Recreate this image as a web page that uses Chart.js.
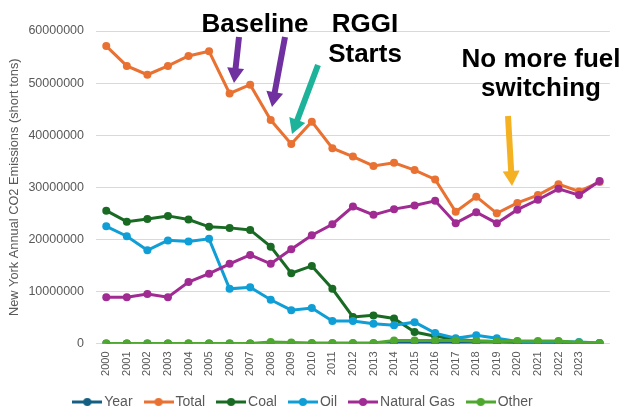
<!DOCTYPE html>
<html>
<head>
<meta charset="utf-8">
<script src="https://cdn.jsdelivr.net/npm/chart.js@4.4.1/dist/chart.umd.min.js"></script>
<style>
  html, body { margin: 0; padding: 0; background: #ffffff; }
  #wrap { position: relative; width: 621px; height: 408px; }
</style>
</head>
<body>
<div id="wrap"><canvas id="chart" width="621" height="408"></canvas></div>
<script>
// Categories and tick labels
const years = [2000, 2001, 2002, 2003, 2004, 2005, 2006, 2007, 2008, 2009, 2010, 2011, 2012,
               2013, 2014, 2015, 2016, 2017, 2018, 2019, 2020, 2021, 2022, 2023, 2024];
const tickLabels = ['2000', '2001', '2002', '2003', '2004', '2005', '2006', '2007', '2008', '2009',
                    '2010', '2011', '2012', '2013', '2014', '2015', '2016', '2017', '2018', '2019',
                    '2020', '2021', '2022', '2023', ''];
const yTicks = [0, 10000000, 20000000, 30000000, 40000000, 50000000, 60000000];

// Annual CO2 emissions, short tons
const total = [57100000, 53300000, 51600000, 53300000, 55200000, 56100000, 48000000, 49700000,
               42900000, 38300000, 42600000, 37500000, 35900000, 34100000, 34700000, 33300000,
               31500000, 25300000, 28200000, 25000000, 27000000, 28500000, 30600000, 29200000, 31000000];
const coal = [25500000, 23400000, 23900000, 24500000, 23800000, 22400000, 22200000, 21800000,
              18600000, 13500000, 14900000, 10500000, 5100000, 5400000, 4800000, 2200000,
              1400000, 800000, 500000, 400000, 200000, 200000, 200000, 100000, 0];
const oil = [22500000, 20600000, 17900000, 19800000, 19600000, 20100000, 10500000, 10800000,
             8400000, 6400000, 6800000, 4300000, 4300000, 3800000, 3500000, 4100000,
             2000000, 1000000, 1600000, 1000000, 400000, 300000, 400000, 300000, 100000];
const naturalGas = [8900000, 8900000, 9500000, 8900000, 11800000, 13400000, 15300000, 17000000,
                    15300000, 18100000, 20800000, 22900000, 26300000, 24700000, 25800000, 26500000,
                    27400000, 23100000, 25200000, 23100000, 25700000, 27600000, 29700000, 28500000, 31200000];
const other = [0, 0, 0, 0, 0, 0, 0, 0, 300000, 200000, 100000, 100000, 100000, 100000, 600000, 600000,
               600000, 600000, 500000, 400000, 500000, 500000, 500000, 200000, 100000];

const seriesNames = ['Year', 'Total', 'Coal', 'Oil', 'Natural Gas', 'Other'];
const seriesColors = ['#156082', '#E97132', '#196B24', '#0F9ED5', '#A02B93', '#4EA72E'];
const seriesValues = [years, total, coal, oil, naturalGas, other];

const GREY = '#595959';
const FONT = "'Liberation Sans', Arial, sans-serif";

// Legend swatch: a short line with a marker dot in the middle
function legendSwatch(color) {
  const c = document.createElement('canvas');
  c.width = 30; c.height = 10;
  const g = c.getContext('2d');
  g.strokeStyle = color; g.lineWidth = 3;
  g.beginPath(); g.moveTo(0, 5); g.lineTo(30, 5); g.stroke();
  g.fillStyle = color;
  g.beginPath(); g.arc(15, 5, 4, 0, Math.PI * 2); g.fill();
  return c;
}

const datasets = seriesNames.map((name, i) => ({
  label: name,
  data: seriesValues[i],
  borderColor: seriesColors[i],
  backgroundColor: seriesColors[i],
  borderWidth: 3,
  pointRadius: 4,
  pointBorderWidth: 0,
  pointBackgroundColor: seriesColors[i],
  tension: 0,
  order: -i
}));

// Callout texts and arrows drawn over the plot
const callouts = [
  { lines: ['Baseline'], x: 255, y: [32] },
  { lines: ['RGGI', 'Starts'], x: 365, y: [32, 62] },
  { lines: ['No more fuel', 'switching'], x: 541, y: [67, 96] }
];
const arrows = [
  { from: [239, 37], to: [234, 83], color: '#7030A0' },
  { from: [285, 37], to: [272, 107], color: '#7030A0' },
  { from: [318, 65], to: [292, 134], color: '#1DB39A' },
  { from: [508, 116], to: [512, 186], color: '#F4B223' }
];

function drawArrow(ctx, a) {
  const [x0, y0] = a.from, [x1, y1] = a.to;
  const ang = Math.atan2(y1 - y0, x1 - x0);
  const len = Math.hypot(x1 - x0, y1 - y0);
  const headL = 15, headW = 17, shaftW = 6;
  ctx.save();
  ctx.translate(x0, y0);
  ctx.rotate(ang);
  ctx.fillStyle = a.color;
  ctx.beginPath();
  ctx.moveTo(0, -shaftW / 2);
  ctx.lineTo(len - headL, -shaftW / 2);
  ctx.lineTo(len - headL, -headW / 2);
  ctx.lineTo(len, 0);
  ctx.lineTo(len - headL, headW / 2);
  ctx.lineTo(len - headL, shaftW / 2);
  ctx.lineTo(0, shaftW / 2);
  ctx.closePath();
  ctx.fill();
  ctx.restore();
}

const calloutPlugin = {
  id: 'callouts',
  afterDraw(chart) {
    const ctx = chart.ctx;
    ctx.save();
    arrows.forEach(a => drawArrow(ctx, a));
    ctx.fillStyle = '#000000';
    ctx.font = "bold 26px 'Liberation Sans', Arial, sans-serif";
    ctx.textAlign = 'center';
    ctx.textBaseline = 'alphabetic';
    callouts.forEach(c => c.lines.forEach((t, k) => ctx.fillText(t, c.x, c.y[k])));
    ctx.restore();
  }
};

Chart.defaults.font.family = FONT;
Chart.defaults.color = GREY;

new Chart(document.getElementById('chart'), {
  type: 'line',
  data: { labels: tickLabels, datasets },
  plugins: [calloutPlugin],
  options: {
    responsive: false,
    animation: false,
    layout: { padding: { left: 0, right: 11, top: 31, bottom: -11 } },
    plugins: {
      tooltip: { enabled: false },
      legend: {
        position: 'bottom',
        labels: {
          usePointStyle: true,
          pointStyleWidth: 20,
          padding: 16,
          color: GREY,
          font: { size: 14 },
          sort: (a, b) => a.datasetIndex - b.datasetIndex,
          generateLabels(chart) {
            return chart.data.datasets.map((ds, i) => ({
              text: ds.label,
              fillStyle: ds.borderColor,
              strokeStyle: ds.borderColor,
              lineWidth: 0,
              pointStyle: legendSwatch(ds.borderColor),
              hidden: false,
              datasetIndex: i,
              fontColor: GREY
            }));
          }
        }
      }
    },
    scales: {
      x: {
        offset: true,
        afterFit(scale) { scale.height = 35.5; },
        grid: { display: false, drawTicks: false },
        border: { display: false },
        ticks: {
          autoSkip: false, minRotation: 90, maxRotation: 90, padding: 8,
          color: GREY, font: { size: 11 }
        }
      },
      y: {
        min: 0, max: 60000000,
        afterBuildTicks(scale) { scale.ticks = yTicks.map(v => ({ value: v })); },
        afterFit(scale) { scale.width = 96; },
        grid: { color: '#d9d9d9', lineWidth: 1, drawTicks: false },
        border: { display: false },
        ticks: { padding: 12, color: GREY, font: { size: 12.5 }, callback: v => String(v) },
        title: {
          display: true,
          text: 'New York Annual CO2 Emissions (short tons)',
          color: GREY,
          font: { size: 12.8 },
          padding: { top: 7, bottom: 0 }
        }
      }
    }
  }
});
</script>
</body>
</html>
